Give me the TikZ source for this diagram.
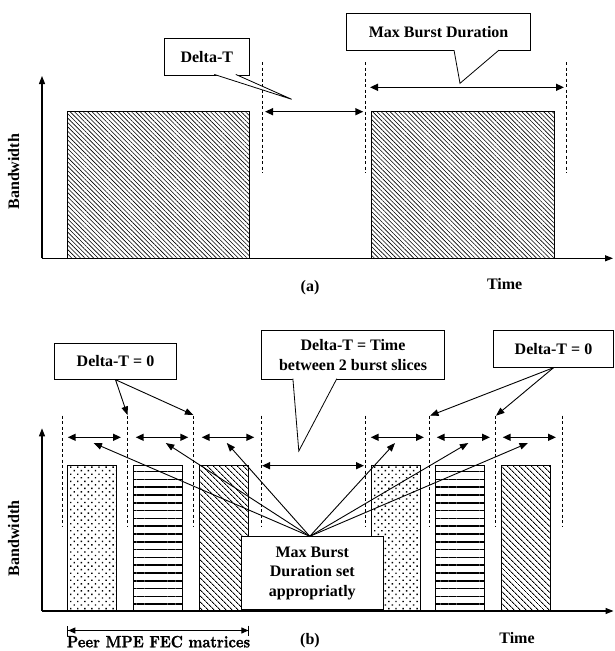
\documentclass[tikz,border=0pt]{standalone}
\usepackage{fontspec}
\newfontfamily\tms{Liberation Serif}
\newfontfamily\peerfont{lmroman10-bold}[Extension=.otf, FakeStretch=0.88, FakeBold=1.2]
\usetikzlibrary{arrows.meta,patterns.meta}

\tikzset{
  lbl/.style={font=\tms\bfseries\fontsize{16}{19.5}\selectfont, inner sep=0pt, align=center},
  callbox/.style={lbl, draw, fill=white, line width=0.8pt},
  cut/.style={dash pattern=on 3pt off 2.5pt, line width=0.7pt},
  span/.style={{Triangle[length=8pt,width=7pt]}-{Triangle[length=8pt,width=7pt]}, line width=1.5pt},
  hint/.style={-{Triangle[length=8.5pt,width=6.5pt]}, line width=0.9pt},
  axis/.style={-{Triangle[length=8pt,width=6pt]}, line width=1.1pt},
  burst/.style={draw, line width=0.8pt, pattern={Lines[angle=-45,distance=3.1pt,line width=0.6pt]}},
  dfill/.style={draw, line width=0.8pt, pattern={Lines[angle=-45,distance=4pt,line width=0.9pt]}},
  hfill/.style={draw, line width=0.8pt, pattern={Lines[angle=0,distance=7.8pt,line width=1.6pt]}},
  dotfill/.style={draw, line width=0.8pt, pattern={Dots[angle=45,distance=5pt,radius=1pt]}}
}

\begin{document}
\begin{tikzpicture}[x=1pt,y=-1pt]
\useasboundingbox (0,0) rectangle (614,651);

% (a) one service, bursts with a gap
\draw[axis] (42,258.3) -- (42,76);
\draw[axis] (42,258.3) -- (613,258.3);
\path[burst] (67.3,111.7) rectangle (249.4,258.3);
\path[burst] (371.3,111.7) rectangle (554,258.3);
\foreach \x in {262.4, 365.4, 566}
   \draw[cut] (\x,62) -- (\x,173);
\draw[span] (265,111.7) -- (363.3,111.7);
\draw[span] (370,87.3) -- (564,87.3);

\node[callbox, minimum width=85pt, minimum height=36.7pt] (dt) at (206.8,56.7) {Delta-T};
\node[callbox, minimum width=184pt, minimum height=37.4pt] (mbd) at (438.6,32) {Max Burst Duration};
\coordinate (dttip) at (291.7,99.3);
\coordinate (mbdtip) at (460,83.3);
\filldraw[fill=white, line width=0.8pt] ([xshift=7.5pt,yshift=1pt]dt.south) -- (dttip) -- ([xshift=29pt,yshift=1pt]dt.south);
\filldraw[fill=white, line width=0.8pt] ([xshift=15.4pt,yshift=1pt]mbd.south) -- (mbdtip) -- ([xshift=60.4pt,yshift=1pt]mbd.south);

\node[lbl, rotate=90] (bw1) at (13.7,171.7) {Bandwidth};
\node[lbl] (capa) at (310,288) {(a)};
\node[lbl] (time1) at (504.7,284) {Time};

% (b) peer services, time slicing
\draw[axis] (42,611) -- (42,428.3);
\draw[axis] (42,611) -- (613.5,611);
\foreach \xa/\xb/\pat in {67.3/116/dotfill, 133.3/182.7/hfill, 199.3/248.5/dfill,
                          371/420/dotfill, 435.3/484.3/hfill, 501/550/dfill}
   \path[\pat] (\xa,465.8) rectangle (\xb,611);
\foreach \x in {62.3, 127.7, 193.5, 260.9, 365.8, 429.7, 495.7, 562.5}
   \draw[cut] (\x,415.7) -- (\x,526);
\foreach \xa/\xb in {67.7/121, 135.7/188.3, 201.7/254.3, 370.7/424, 436.7/490, 502.7/556}
   \draw[span] (\xa,437.3) -- (\xb,437.3);
\draw[span] (262,465.7) -- (364,465.7);

\node[callbox, minimum width=121.4pt, minimum height=36pt] (dtl) at (115.5,361.3) {Delta-T = 0};
\node[callbox, minimum width=183pt, minimum height=48.6pt] (dtm) at (353,355) {Delta-T = Time\\between 2 burst slices};
\node[callbox, minimum width=120pt, minimum height=36.6pt] (dtr) at (553.5,349) {Delta-T = 0};
\node[callbox, minimum width=141.4pt, minimum height=72.6pt] (mbs) at (312.3,573) {Max Burst\\Duration set\\appropriatly};

\coordinate (dtmtip) at (298.8,451);
\filldraw[fill=white, line width=0.8pt] ([xshift=-60.1pt,yshift=1pt]dtm.south) -- (dtmtip) -- ([xshift=-16.2pt,yshift=1pt]dtm.south);

\coordinate (gl1) at (127.5,415);
\coordinate (gl2) at (193.4,415);
\coordinate (gr1) at (430,415.7);
\coordinate (gr2) at (496,415.7);
\draw[hint] (dtl.south) -- (gl1);
\draw[hint] (dtl.south) -- (gl2);
\draw[hint] (dtr.south) -- (gr1);
\draw[hint] (dtr.south) -- (gr2);

\foreach \x [count=\i] in {93.5, 165.8, 226.8, 395, 468.3, 528}
   \coordinate (fan\i) at (\x,443);
\foreach \i in {1,...,6}
   \draw[hint] ([xshift=-2.5pt]mbs.north) -- (fan\i);

\coordinate (peerl) at (67.3,630.5);
\coordinate (peerr) at (249.4,630.5);
\draw[{Bar[width=10pt]Triangle[length=7pt,width=6pt]}-{Triangle[length=7pt,width=6pt]Bar[width=10pt]}, line width=1pt] (peerl) -- (peerr);
\node[font=\peerfont\fontsize{16.5}{19}\selectfont, inner sep=0pt] (peer) at (158.5,641.7) {Peer MPE FEC matrices};

\node[lbl, rotate=90] (bw2) at (13.7,538.3) {Bandwidth};
\node[lbl] (capb) at (310,641) {(b)};
\node[lbl] (time2) at (517,638.5) {Time};
\end{tikzpicture}
\end{document}
